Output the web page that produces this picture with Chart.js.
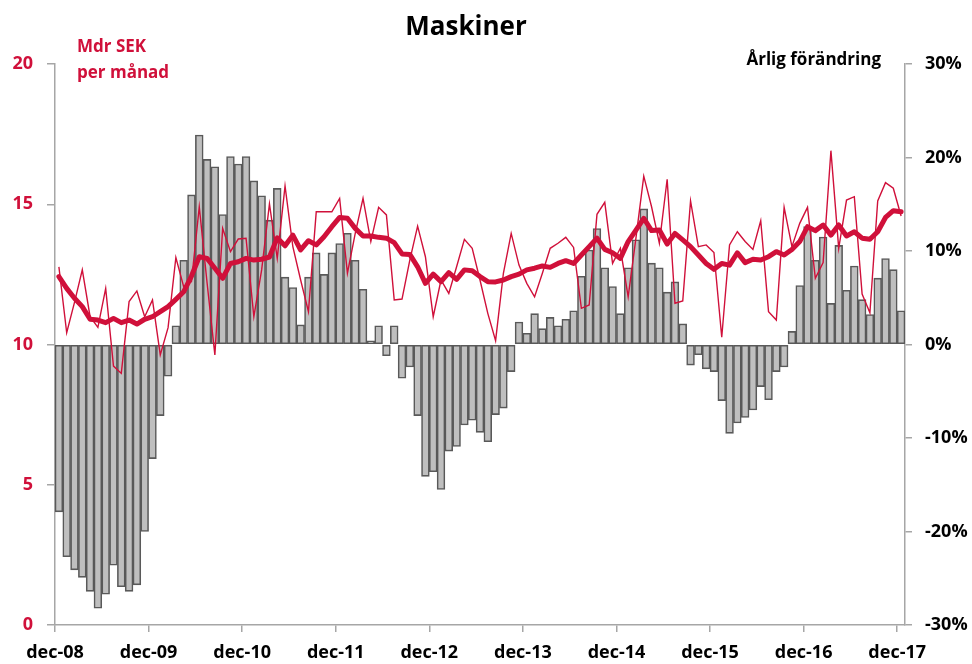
<!DOCTYPE html>
<html>
<head>
<meta charset="utf-8">
<script src="https://cdn.jsdelivr.net/npm/chart.js@4.4.0/dist/chart.umd.min.js"></script>
<style>
  html, body { margin: 0; padding: 0; background: #fff; }
</style>
</head>
<body>
<canvas id="chart" width="972" height="664"></canvas>
<script>
// Årlig förändring i procent (staplar, höger axel)
const arligForandring = [
  -17.9, -22.7, -24.1, -24.9, -26.4, -28.2, -26.7, -23.6, -25.9, -26.4, -25.7, -20.0, -12.2, -7.6, -3.4,
  2.0, 9.0, 16.0, 22.4, 19.8, 19.0, 13.9, 20.1, 19.3, 20.1, 17.5, 15.9, 13.3, 16.7,
  7.2, 6.1, 2.1, 7.2, 9.8, 7.5, 9.8, 10.8, 11.9, 9.0, 5.9, 0.4, 2.0, -1.2, 2.0,
  -3.6, -2.4, -7.6, -14.1, -13.6, -15.5, -11.4, -10.9, -8.6, -8.1, -9.4, -10.4, -7.5, -6.8, -2.9,
  2.4, 1.2, 3.3, 1.7, 2.9, 2.0, 2.7, 3.6, 7.3, 10.1, 12.4, 8.2, 6.2, 3.3, 8.2, 11.2, 14.5, 8.7, 8.2, 5.6, 6.7, 2.2,
  -2.2, -1.1, -2.6, -2.9, -6.0, -9.5, -8.4, -7.8, -7.0, -4.5, -5.9, -2.9, -2.4,
  1.4, 6.3, 12.6, 9.0, 11.5, 4.4, 10.6, 5.8, 8.4, 4.8, 3.2, 7.1, 9.2, 8.0, 3.6
];

// Mdr SEK per månad (tunn linje)
const perManad = [
  12.77, 10.42, 11.5, 12.66, 10.99, 10.61, 12.0, 9.23, 8.97, 11.53, 11.91, 10.99, 11.59, 9.63, 10.6,
  13.1, 12.06, 12.24, 14.91, 12.2, 9.63, 14.14, 13.31, 13.76, 13.79, 10.99, 12.66, 15.01, 13.07,
  15.65, 13.49, 12.3, 11.17, 14.73, 14.73, 14.73, 15.21, 12.54, 13.96, 15.21, 13.67, 14.89, 14.62,
  11.59, 11.62, 13.01, 14.22, 13.13, 10.99, 12.3, 11.82, 12.77, 13.75, 13.43, 12.3, 11.11, 10.14,
  12.54, 13.96, 12.83, 12.18, 11.7, 12.54, 13.43, 13.61, 13.82, 13.46, 11.29, 11.41, 14.64, 15.07,
  12.89, 13.43, 11.7, 13.8, 16.0, 14.91, 13.61, 15.89, 11.47, 11.55, 15.12, 13.49, 13.55, 13.28,
  10.26, 13.55, 14.02, 13.67, 13.39, 14.41, 11.17, 10.87, 14.89, 13.49, 14.32, 14.89, 12.36, 12.92,
  16.91, 13.43, 15.15, 15.27, 11.8, 11.13, 15.12, 15.77, 15.57, 14.58
];

// Glidande medelvärde (tjock linje)
const trend = [
  12.42, 12.0, 11.65, 11.35, 10.9, 10.87, 10.78, 10.93, 10.78, 10.87, 10.73, 10.9, 10.99, 11.17, 11.35,
  11.61, 11.88, 12.44, 13.13, 13.07, 12.72, 12.36, 12.89, 12.95, 13.07, 13.01, 13.04, 13.12, 13.8,
  13.52, 13.9, 13.37, 13.7, 13.55, 13.84, 14.2, 14.53, 14.5, 14.14, 13.87, 13.87, 13.82, 13.79,
  13.63, 13.23, 13.21, 12.77, 12.18, 12.51, 12.24, 12.56, 12.32, 12.66, 12.63, 12.42, 12.24, 12.23,
  12.3, 12.42, 12.51, 12.66, 12.72, 12.8, 12.75, 12.89, 12.99, 12.89, 13.19, 13.49, 13.79, 13.39,
  13.27, 13.07, 13.67, 14.08, 14.5, 14.06, 14.08, 13.58, 13.96, 13.73, 13.49, 13.19, 12.89, 12.68,
  12.89, 12.83, 13.27, 12.92, 13.04, 13.01, 13.13, 13.31, 13.19, 13.39, 13.67, 14.2, 14.06, 14.26,
  13.9, 14.26, 13.87, 14.02, 13.79, 13.75, 14.02, 14.53, 14.77, 14.73
];

const tickLabels = ['dec-08', 'dec-09', 'dec-10', 'dec-11', 'dec-12', 'dec-13', 'dec-14', 'dec-15', 'dec-16', 'dec-17'];
const monthNames = ['dec', 'jan', 'feb', 'mar', 'apr', 'maj', 'jun', 'jul', 'aug', 'sep', 'okt', 'nov'];
const manader = arligForandring.map((_, i) => monthNames[i % 12] + '-' + String(8 + Math.ceil(i / 12)).padStart(2, '0'));

const RED = '#d0103a';
const AXIS = '#a6a6a6';
const FONT = '"Open Sans"';

const texter = {
  id: 'texter',
  afterDraw(chart) {
    const c = chart.ctx;
    c.save();
    c.textBaseline = 'middle';
    c.fillStyle = '#000';
    c.font = 'bold 26px ' + FONT;
    c.textAlign = 'center';
    c.fillText('Maskiner', 466, 28);
    c.font = 'bold 17px ' + FONT;
    c.fillStyle = RED;
    c.textAlign = 'left';
    c.fillText('Mdr SEK', 77, 47);
    c.fillText('per månad', 77, 73);
    c.fillStyle = '#000';
    c.textAlign = 'right';
    c.fillText('Årlig förändring', 881, 60);
    c.restore();
  }
};

const ctx = document.getElementById('chart').getContext('2d');
new Chart(ctx, {
  data: {
    labels: manader,
    datasets: [
      {
        type: 'line',
        data: trend,
        yAxisID: 'y',
        borderColor: RED,
        borderWidth: 5,
        pointRadius: 0,
        tension: 0,
        borderJoinStyle: 'round',
        borderCapStyle: 'round',
        order: 1
      },
      {
        type: 'line',
        data: perManad,
        yAxisID: 'y',
        borderColor: RED,
        borderWidth: 1.4,
        pointRadius: 0,
        tension: 0,
        order: 2
      },
      {
        type: 'bar',
        data: arligForandring,
        yAxisID: 'y2',
        backgroundColor: '#bfbfbf',
        borderColor: '#595959',
        borderWidth: 1.6,
        borderSkipped: false,
        categoryPercentage: 1,
        barPercentage: 1,
        order: 3
      }
    ]
  },
  options: {
    responsive: false,
    animation: false,
    layout: { padding: { top: 64, left: 0, right: 0, bottom: 0 } },
    plugins: { legend: { display: false }, tooltip: { enabled: false } },
    scales: {
      x: { type: 'category', display: false, offset: true },
      x2: {
        type: 'linear',
        position: 'bottom',
        min: -0.5,
        max: arligForandring.length - 0.5,
        bounds: 'data',
        afterBuildTicks: s => { s.ticks = tickLabels.map((t, k) => ({ value: k * 12 - 0.5 })); },
        afterFit: s => { s.height = 39; },
        ticks: {
          autoSkip: false,
          maxRotation: 0,
          padding: 10,
          color: '#000',
          font: { family: FONT, weight: 'bold', size: 18 },
          callback: (v, i) => tickLabels[i]
        },
        grid: { drawOnChartArea: false, drawTicks: true, tickLength: 7, color: AXIS, lineWidth: 1.5 },
        border: { color: AXIS, width: 1.5 }
      },
      y: {
        position: 'left',
        min: 0,
        max: 20,
        afterFit: s => { s.width = 55; },
        ticks: { stepSize: 5, padding: 14, color: RED, font: { family: FONT, weight: 'bold', size: 18 } },
        grid: { drawOnChartArea: false, drawTicks: true, tickLength: 8, color: AXIS, lineWidth: 1.5 },
        border: { color: AXIS, width: 1.5 }
      },
      y2: {
        position: 'right',
        min: -30,
        max: 30,
        afterFit: s => { s.width = 67; },
        ticks: {
          stepSize: 10,
          padding: 13,
          color: '#000',
          font: { family: FONT, weight: 'bold', size: 18 },
          callback: v => v + '%'
        },
        grid: { drawOnChartArea: false, drawTicks: true, tickLength: 7, color: AXIS, lineWidth: 1.5 },
        border: { color: AXIS, width: 1.5 }
      }
    }
  },
  plugins: [texter]
});
</script>
</body>
</html>
